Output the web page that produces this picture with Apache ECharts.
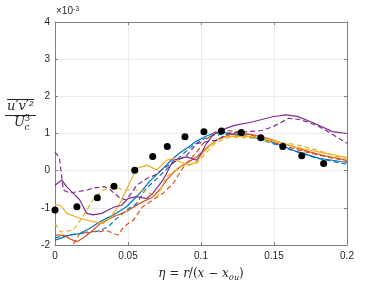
<!DOCTYPE html>
<html><head><meta charset="utf-8">
<script src="https://cdn.jsdelivr.net/npm/echarts@6/dist/echarts.min.js"></script>
<style>html,body{margin:0;padding:0;background:#fff}#c{width:376px;height:282px}</style>
</head><body><div id="c"></div>
<script>
// x tick labels / y tick labels
const xTicks = [0, 0.05, 0.1, 0.15, 0.2];
const yTicks = [-2, -1, 0, 1, 2, 3, 4];

// Measurements (black dots), values in units of 1e-3
const dotX = [0, 0.015, 0.029, 0.0404, 0.0546, 0.0669, 0.0769, 0.089, 0.102, 0.114, 0.1276, 0.141, 0.156, 0.169, 0.184];
const dotY = [-1.06, -0.97, -0.73, -0.42, 0.01, 0.38, 0.65, 0.91, 1.05, 1.07, 1.03, 0.885, 0.65, 0.40, 0.19];

const blueSolidX = [0, .005, .0103, .017, .024, .031, .04, .049, .058, .065, .0725, .08, .0856, .092, .097, .103, .108, .115, .122, .127, .135, .145, .155, .163, .172, .181, .19, .2];
const blueSolidY = [-1.87, -1.8, -1.73, -1.69, -1.55, -1.37, -1.19, -0.97, -0.61, -0.28, 0.0, 0.3, 0.48, 0.65, 0.8, 0.92, 1.0, 1.03, 1.0, 0.96, 0.9, 0.82, 0.68, 0.55, 0.44, 0.33, 0.28, 0.22];

const blueDashX = [0, .008, .015, .022, .03, .0365, .041, .049, .056, .062, .07, .078, .085, .092, .1, .108, .115, .122, .13, .14, .15, .16, .17, .18, .19, .2];
const blueDashY = [-1.8, -1.75, -1.7, -1.68, -1.62, -1.51, -1.33, -1.06, -0.88, -0.5, -0.2, 0.1, 0.35, 0.6, 0.82, 0.95, 0.98, 0.97, 0.93, 0.85, 0.72, 0.58, 0.45, 0.33, 0.25, 0.17];

const redSolidX = [0, .006, .011, .015, .019, .022, .026, .031, .04, .049, .058, .0673, .072, .0765, .081, .0856, .092, .097, .105, .112, .12, .127, .135, .145, .155, .165, .175, .185, .2];
const redSolidY = [-1.73, -1.74, -1.85, -1.91, -1.82, -1.73, -1.6, -1.42, -1.24, -1.1, -0.88, -0.7, -0.5, -0.25, -0.05, 0.1, 0.25, 0.37, 0.65, 0.85, 0.97, 1.0, 0.97, 0.88, 0.75, 0.62, 0.5, 0.4, 0.28];

const redDashX = [.008, .013, .017, .024, .031, .035, .04, .0434, .047, .0537, .06, .067, .074, .081, .088, .097, .104, .11, .118, .125, .135, .145, .155, .165, .175, .185, .195, .2];
const redDashY = [-2.1, -1.95, -1.69, -1.64, -1.64, -1.6, -1.69, -1.73, -1.51, -1.33, -0.97, -0.79, -0.61, -0.34, 0.1, 0.5, 0.85, 1.05, 1.08, 1.05, 0.95, 0.82, 0.7, 0.57, 0.47, 0.38, 0.3, 0.25];

const yellowSolidX = [0, .004, .008, .017, .026, .033, .0377, .0445, .051, .056, .063, .0697, .0765, .081, .0856, .092, .097, .103, .11, .118, .125, .135, .145, .155, .165, .175, .185, .2];
const yellowSolidY = [-0.92, -0.93, -1.15, -1.28, -1.37, -1.42, -1.28, -0.88, -0.34, 0.06, 0.15, 0.02, 0.28, 0.33, 0.24, 0.15, 0.24, 0.55, 0.82, 0.92, 0.93, 0.92, 0.85, 0.75, 0.63, 0.55, 0.47, 0.35];

const yellowDashX = [0, .004, .0125, .019, .026, .033, .04, .047, .058, .065, .07, .0765, .0856, .097, .104, .11, .118, .125, .135, .145, .155, .162, .17, .18, .19, .2];
const yellowDashY = [-1.42, -1.65, -1.6, -1.24, -0.79, -0.52, -0.43, -0.52, -0.52, -0.61, -0.7, -0.16, 0.1, 0.2, 0.5, 0.75, 0.88, 0.9, 0.88, 0.8, 0.75, 0.72, 0.65, 0.55, 0.42, 0.3];

const purpleSolidX = [0, .0046, .008, .0125, .017, .0217, .026, .032, .0365, .041, .0457, .05, .056, .063, .067, .074, .081, .09, .097, .1, .104, .108, .112, .118, .123, .135, .149, .158, .166, .178, .19, .2];
const purpleSolidY = [-0.39, -0.25, -0.43, -0.61, -0.79, -1.15, -1.19, -1.15, -1.06, -0.97, -0.93, -0.75, -0.7, -0.75, -0.61, -0.25, 0.28, 0.37, 0.28, 0.45, 0.75, 0.95, 1.05, 1.15, 1.22, 1.31, 1.45, 1.5, 1.46, 1.27, 1.05, 1.0];

const purpleDashX = [0, .003, .0057, .010, .015, .022, .026, .034, .038, .0445, .049, .056, .063, .0685, .074, .08, .09, .097, .104, .111, .1185, .132, .142, .149, .155, .16, .167, .173, .18, .187, .193, .2];
const purpleDashY = [0.5, 0.35, -0.52, -0.6, -0.57, -0.52, -0.47, -0.43, -0.52, -0.74, -0.79, -0.39, -0.21, -0.12, 0.05, 0.2, 0.4, 0.73, 0.78, 0.82, 1.0, 1.05, 1.08, 1.18, 1.3, 1.41, 1.38, 1.31, 1.2, 1.05, 0.9, 0.74];

const zip = (xs, ys) => xs.map((x, i) => [x, ys[i]]);
const C = {blue: '#0072BD', red: '#D95319', yellow: '#EDB120', purple: '#7E2F8E'};
function line(name, xs, ys, color, dashed) {
  return {name, type: 'line', data: zip(xs, ys), showSymbol: false, symbol: 'none',
    lineStyle: {color, width: 1.2, type: dashed ? [5, 3] : 'solid'}, clip: true, silent: true};
}

const chart = echarts.init(document.getElementById('c'), null, {renderer: 'canvas'});
const axisColor = '#808080';
const labelFont = {color: '#262626', fontSize: 10, fontFamily: 'Liberation Sans, Arial, sans-serif'};
const serif = 'DejaVu Serif, serif';
chart.setOption({
  animation: false,
  grid: {left: 55, right: 29, top: 22, bottom: 37, containLabel: false, outerBoundsMode: 'none'},
  xAxis: [{
    type: 'value', min: xTicks[0], max: xTicks[xTicks.length - 1], interval: 0.05,
    axisLine: {show: true, onZero: false, lineStyle: {color: axisColor}},
    axisTick: {show: true, inside: true, length: 3, lineStyle: {color: axisColor}},
    axisLabel: Object.assign({margin: 6, formatter: v => String(+v.toFixed(2))}, labelFont),
    splitLine: {show: true, lineStyle: {color: '#ebebeb'}},
    name: '{i|η} = {i|r}/({i|x} − {i|x}{s|0u})', nameLocation: 'middle', nameGap: 19,
    nameTextStyle: {fontFamily: serif, fontSize: 12, color: '#262626', lineHeight: 16,
      rich: {i: {fontStyle: 'italic', fontFamily: serif, fontSize: 12, lineHeight: 16},
             s: {fontStyle: 'italic', fontFamily: serif, fontSize: 8, lineHeight: 8, verticalAlign: 'bottom'}}}
  }, {
    type: 'value', position: 'top', min: xTicks[0], max: xTicks[xTicks.length - 1], interval: 0.05,
    axisLine: {show: true, onZero: false, lineStyle: {color: axisColor}},
    axisTick: {show: true, inside: true, length: 3, lineStyle: {color: axisColor}},
    axisLabel: {show: false}, splitLine: {show: false}
  }],
  yAxis: [{
    type: 'value', min: yTicks[0], max: yTicks[yTicks.length - 1], interval: 1,
    axisLine: {show: true, onZero: false, lineStyle: {color: axisColor}},
    axisTick: {show: true, inside: true, length: 3, lineStyle: {color: axisColor}},
    axisLabel: Object.assign({margin: 5}, labelFont),
    splitLine: {show: true, lineStyle: {color: '#ebebeb'}}
  }, {
    type: 'value', position: 'right', min: yTicks[0], max: yTicks[yTicks.length - 1], interval: 1,
    axisLine: {show: true, onZero: false, lineStyle: {color: axisColor}},
    axisTick: {show: true, inside: true, length: 3, lineStyle: {color: axisColor}},
    axisLabel: {show: false}, splitLine: {show: false}
  }],
  graphic: [
    {type: 'text', left: 56, top: 6, style: {
      text: '×10{s|-3}', fill: '#262626', font: '10px Liberation Sans, Arial, sans-serif',
      rich: {s: {fontSize: 7, fontFamily: 'Liberation Sans, Arial, sans-serif', verticalAlign: 'top', lineHeight: 8}}}},
    {type: 'line', shape: {x1: 7, y1: 99.5, x2: 34, y2: 99.5}, style: {stroke: '#262626', lineWidth: 1}},
    {type: 'text', x: 20.5, y: 100, style: {text: 'u′v′²', fill: '#262626', font: 'italic 13px ' + serif, align: 'center', verticalAlign: 'top'}},
    {type: 'line', shape: {x1: 5, y1: 115.5, x2: 36, y2: 115.5}, style: {stroke: '#262626', lineWidth: 1}},
    {type: 'text', x: 14, y: 116, style: {text: 'U', fill: '#262626', font: 'italic 13px ' + serif, align: 'left', verticalAlign: 'top'}},
    {type: 'text', x: 24.5, y: 123, style: {text: 'c', fill: '#262626', font: 'italic 9px ' + serif, align: 'left', verticalAlign: 'top'}},
    {type: 'text', x: 24.5, y: 114, style: {text: '3', fill: '#262626', font: '9px ' + serif, align: 'left', verticalAlign: 'top'}}
  ],
  series: [
    line('blue', blueSolidX, blueSolidY, C.blue, false),
    line('blue dashed', blueDashX, blueDashY, C.blue, true),
    line('red', redSolidX, redSolidY, C.red, false),
    line('red dashed', redDashX, redDashY, C.red, true),
    line('yellow', yellowSolidX, yellowSolidY, C.yellow, false),
    line('yellow dashed', yellowDashX, yellowDashY, C.yellow, true),
    line('purple', purpleSolidX, purpleSolidY, C.purple, false),
    line('purple dashed', purpleDashX, purpleDashY, C.purple, true),
    {name: 'data', type: 'scatter', data: zip(dotX, dotY), symbol: 'circle', symbolSize: 7,
      itemStyle: {color: '#000', opacity: 1}, silent: true, z: 5}
  ]
});
</script></body></html>
